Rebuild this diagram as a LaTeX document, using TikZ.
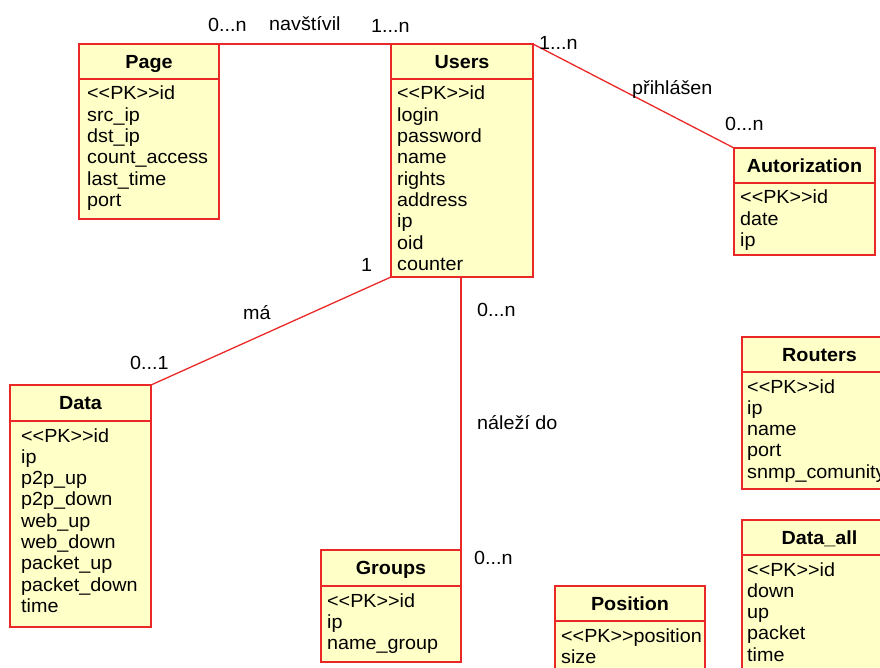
\documentclass[tikz,border=0pt]{standalone}
\usepackage{fontspec}
\newfontfamily\af{Liberation Sans}[FakeStretch=1.04]
\usetikzlibrary{calc}
\definecolor{entfill}{RGB}{255,255,200}
\definecolor{entred}{RGB}{235,40,40}
\tikzset{
  ent/.style={draw=entred, fill=entfill, line width=1.6pt, inner sep=0pt, outer sep=0pt},
  sepline/.style={draw=entred, line width=1.2pt},
  ttl/.style={font=\af\bfseries\fontsize{19}{21}\selectfont, anchor=base, inner sep=0pt},
  attr/.style={font=\af\fontsize{19}{21}\selectfont, anchor=base west, inner sep=0pt},
  lbl/.style={font=\af\fontsize{19}{21}\selectfont, anchor=base west, inner sep=0pt},
  conn/.style={draw=entred, line width=1.3pt},
}
% name, left, top, width, height, header, inset, title, attributes
\newcommand\entity[9]{%
  \node[ent, minimum width=#4, minimum height=#5, anchor=north west] (#1) at (#2,#3) {};
  \draw[sepline] ($(#1.north west)+(0,#6)$) -- ($(#1.north east)+(0,#6)$);
  \node[ttl] (#1-t) at ($(#1.north)+(0,#6/2+6.8)$) {#8};
  \foreach \t [count=\i from 0] in {#9}
    \node[attr] (#1-a\i) at ($(#1.north west)+(#7,#6+21+21.3*\i)$) {\t};
}
\begin{document}
\begin{tikzpicture}[x=1pt,y=-1pt]
\useasboundingbox (0,0) rectangle (880,668);
\clip (0,0) rectangle (880,668);
\fill[white] (0,0) rectangle (880,668);

\entity{page}{79}{44}{140}{175}{35}{8}{Page}{{<<PK>>id},src\_ip,dst\_ip,count\_access,last\_time,port}
\entity{users}{391}{44}{142}{233}{35}{6}{Users}{{<<PK>>id},login,password,name,rights,address,ip,oid,counter}
\entity{autor}{734}{148}{141}{107}{35}{6}{Autorization}{{<<PK>>id},date,ip}
\entity{data}{10}{385}{141}{242}{36}{11}{Data}{{<<PK>>id},ip,p2p\_up,p2p\_down,web\_up,web\_down,packet\_up,packet\_down,time}
\entity{groups}{321}{550}{140}{112}{36}{6}{Groups}{{<<PK>>id},ip,name\_group}
\entity{position}{555}{586}{150}{110}{35}{6}{Position}{{<<PK>>position},size}
\entity{routers}{742}{337}{155}{152}{35}{5}{Routers}{{<<PK>>id},ip,name,port,snmp\_comunity}
\entity{dataall}{742}{520}{155}{180}{35}{5}{Data\_all}{{<<PK>>id},down,up,packet,time}

% connectors
\draw[conn] (page.north east) -- (users.north west);
\draw[conn] (users.north east) -- (autor.north west);
\draw[conn] (users.south west) -- (data.north east);
\coordinate (ug) at (groups.north east |- users.south);
\draw[conn] (ug) -- (groups.north east);

% labels
\node[lbl] (l1) at (208,32) {0...n};
\node[lbl] (l2) at (269,31) {navštívil};
\node[lbl] (l3) at (371,33) {1...n};
\node[lbl] (l4) at (539,50) {1...n};
\node[lbl] (l5) at (632,95) {přihlášen};
\node[lbl] (l6) at (725,131) {0...n};
\node[lbl] (l7) at (361,271) {1};
\node[lbl] (l8) at (243,319) {má};
\node[lbl] (l9) at (130,369) {0...1};
\node[lbl] (l10) at (477,316) {0...n};
\node[lbl] (l11) at (477,429) {náleží do};
\node[lbl] (l12) at (474,564) {0...n};
\end{tikzpicture}
\end{document}
